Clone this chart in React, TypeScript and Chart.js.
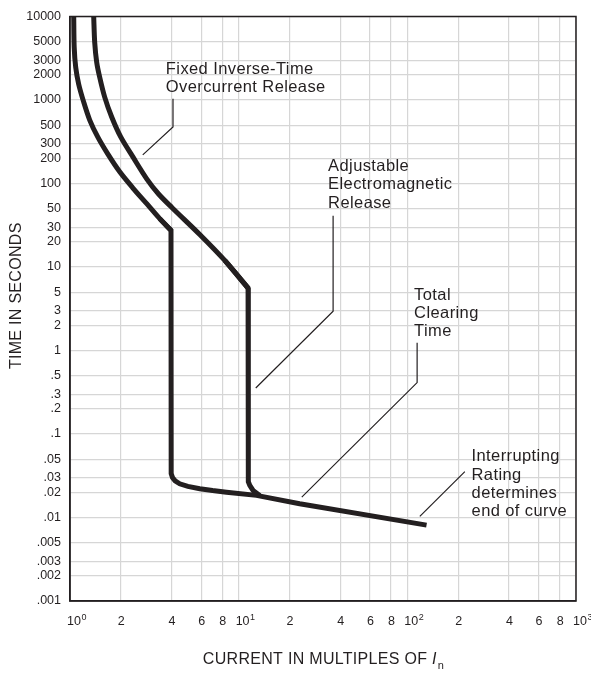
import React, { useEffect, useRef } from "react";
import { Chart, registerables } from "chart.js";

Chart.register(...registerables);

// ---------- data ----------
const X_TICKS = [1, 2, 4, 6, 8, 10, 20, 40, 60, 80, 100, 200, 400, 600, 800, 1000];
const X_TICK_LABELS = ["10^0", "2", "4", "6", "8", "10^1", "2", "4", "6", "8", "10^2", "2", "4", "6", "8", "10^3"];

const Y_TICKS = [0.001, 0.002, 0.003, 0.005, 0.01, 0.02, 0.03, 0.05, 0.1, 0.2, 0.3, 0.5, 1, 2, 3, 5, 10, 20, 30, 50, 100, 200, 300, 500, 1000, 2000, 3000, 5000, 10000];
const Y_TICK_LABELS = [".001", ".002", ".003", ".005", ".01", ".02", ".03", ".05", ".1", ".2", ".3", ".5", "1", "2", "3", "5", "10", "20", "30", "50", "100", "200", "300", "500", "1000", "2000", "3000", "5000", "10000"];

// Inner curve: smooth inverse-time part (top -> corner)
const CURVE1_UPPER_X = [1.052, 1.059, 1.081, 1.126, 1.206, 1.309, 1.46, 1.674, 1.971, 2.354, 2.85, 3.404, 3.97];
const CURVE1_UPPER_Y = [10000, 4270, 2465, 1545, 943, 575, 361, 226, 138, 88.9, 57.3, 37.96, 27.5];
// Inner curve: corner -> vertical drop -> total clearing tail
const CURVE1_LOWER_X = [3.404, 3.97, 3.98, 4.05, 4.2, 4.47, 5.0, 5.88, 7.0, 8.47, 12.75, 23.0, 130];
const CURVE1_LOWER_Y = [37.96, 27.5, 0.0335, 0.0302, 0.0275, 0.0253, 0.0236, 0.0221, 0.021, 0.0201, 0.0184, 0.0146, 0.0081];

// Outer curve: smooth part (top -> corner)
const CURVE2_UPPER_X = [1.382, 1.401, 1.44, 1.5, 1.606, 1.767, 1.998, 2.36, 2.85, 3.34, 4.03, 5.878, 8.271, 11.37];
const CURVE2_UPPER_Y = [10000, 4898, 2828, 1873, 1082, 625, 361, 208, 113.8, 75.4, 51.3, 24.5, 11.98, 5.6];
// Outer curve: corner -> vertical drop -> joins tail
const CURVE2_LOWER_X = [8.271, 11.37, 11.37, 11.45, 11.64, 12.17, 13.34];
const CURVE2_LOWER_Y = [11.98, 5.6, 0.0304, 0.0268, 0.0242, 0.0211, 0.0184];

// Annotation texts, anchored in data space (first-line baseline, left edge)
const ANNOTATION_TEXTS = [
  ["Fixed Inverse-Time", "Overcurrent Release"],
  ["Adjustable", "Electromagnetic", "Release"],
  ["Total", "Clearing", "Time"],
  ["Interrupting", "Rating", "determines", "end of curve"],
];
const ANNOTATION_ANCHORS_X = [3.70, 33.9, 109.7, 240.3];
const ANNOTATION_ANCHORS_Y = [2051, 140.6, 4.07, 0.0471];
const LEADER_X = [
  [4.08, 4.08, 2.70],
  [36.3, 36.3, 12.63],
  [114.3, 114.3, 23.67],
  [219.3, 118.6],
];
const LEADER_Y = [
  [1032, 475, 220],
  [41.2, 2.95, 0.356],
  [1.237, 0.4124, 0.01754],
  [0.0355, 0.01033],
];

const X_TITLE = "CURRENT IN MULTIPLES OF ";
const X_TITLE_SYMBOL = "I";
const X_TITLE_SUB = "n";
const Y_TITLE = "TIME IN SECONDS";

// ---------- styling ----------
const INK = "#231f20";
const GRID = "#d6d6d6";
const FONT = '"Liberation Sans", Arial, Helvetica, sans-serif';

const toPoints = (xs: number[], ys: number[]) => xs.map((x, i) => ({ x, y: ys[i] }));

const overlayPlugin = {
  id: "overlay",
  afterDatasetsDraw(chart: any) {
    const { ctx, chartArea } = chart;
    const xs = chart.scales.x;
    const ys = chart.scales.y;
    ctx.save();

    // frame
    ctx.strokeStyle = INK;
    ctx.lineWidth = 1.5;
    ctx.strokeRect(chartArea.left, chartArea.top, chartArea.right - chartArea.left, chartArea.bottom - chartArea.top);

    // leaders
    ctx.lineWidth = 1.2;
    ctx.strokeStyle = INK;
    LEADER_X.forEach((lx, k) => {
      ctx.beginPath();
      lx.forEach((vx, i) => {
        const px = xs.getPixelForValue(vx);
        const py = ys.getPixelForValue(LEADER_Y[k][i]);
        if (i === 0) ctx.moveTo(px, py);
        else ctx.lineTo(px, py);
      });
      ctx.stroke();
    });

    // annotation text
    ctx.fillStyle = INK;
    ctx.font = `16.5px ${FONT}`;
    (ctx as any).letterSpacing = "0.4px";
    ctx.textAlign = "left";
    ctx.textBaseline = "alphabetic";
    ANNOTATION_TEXTS.forEach((lines, k) => {
      const tx = xs.getPixelForValue(ANNOTATION_ANCHORS_X[k]);
      const ty = ys.getPixelForValue(ANNOTATION_ANCHORS_Y[k]);
      lines.forEach((t, i) => ctx.fillText(t, tx, ty + i * 18.3));
    });

    // x tick labels with superscript exponents
    (ctx as any).letterSpacing = "0px";
    const baseY = chartArea.bottom + 23.5;
    X_TICKS.forEach((v, i) => {
      const px = xs.getPixelForValue(v);
      const [base, exp] = X_TICK_LABELS[i].split("^");
      ctx.font = `12.5px ${FONT}`;
      if (exp !== undefined) {
        ctx.textAlign = "left";
        const left = px - 3;
        ctx.fillText(base, left, baseY);
        const w = ctx.measureText(base).width;
        ctx.font = `9px ${FONT}`;
        ctx.fillText(exp, left + w + 0.5, baseY - 5);
      } else {
        ctx.textAlign = "center";
        ctx.fillText(base, px + 0.5, baseY);
      }
    });

    // x title
    (ctx as any).letterSpacing = "0.3px";
    ctx.font = `16px ${FONT}`;
    const w1 = ctx.measureText(X_TITLE).width;
    ctx.font = `italic 16px ${FONT}`;
    const w2 = ctx.measureText(X_TITLE_SYMBOL).width;
    ctx.font = `11px ${FONT}`;
    const w3 = ctx.measureText(X_TITLE_SUB).width;
    const total = w1 + w2 + w3;
    const cx = (chartArea.left + chartArea.right) / 2;
    let sx = cx - total / 2;
    const ty = chartArea.bottom + 62.5;
    ctx.textAlign = "left";
    ctx.font = `16px ${FONT}`;
    ctx.fillText(X_TITLE, sx, ty);
    sx += w1;
    ctx.font = `italic 16px ${FONT}`;
    ctx.fillText(X_TITLE_SYMBOL, sx, ty);
    sx += w2;
    ctx.font = `11px ${FONT}`;
    ctx.fillText(X_TITLE_SUB, sx + 1, ty + 5);

    // y title
    ctx.font = `16px ${FONT}`;
    ctx.translate(16.7, (chartArea.top + chartArea.bottom) / 2 - 13);
    ctx.rotate(-Math.PI / 2);
    ctx.textAlign = "center";
    ctx.textBaseline = "middle";
    ctx.fillText(Y_TITLE, 0, 0);

    ctx.restore();
  },
};

export default function App() {
  const canvasRef = useRef<HTMLCanvasElement | null>(null);

  useEffect(() => {
    if (!canvasRef.current) return;
    const lineStyle = {
      borderColor: INK,
      borderWidth: 5,
      pointRadius: 0,
      fill: false,
      borderJoinStyle: "miter" as const,
      borderCapStyle: "butt" as const,
    };
    const chart = new Chart(canvasRef.current, {
      type: "line",
      data: {
        datasets: [
          { label: "Fixed inverse-time (upper)", data: toPoints(CURVE1_UPPER_X, CURVE1_UPPER_Y), tension: 0.3, ...lineStyle },
          { label: "Fixed inverse-time (lower)", data: toPoints(CURVE1_LOWER_X, CURVE1_LOWER_Y), tension: 0, ...lineStyle },
          { label: "Adjustable (upper)", data: toPoints(CURVE2_UPPER_X, CURVE2_UPPER_Y), tension: 0.3, ...lineStyle },
          { label: "Adjustable (lower)", data: toPoints(CURVE2_LOWER_X, CURVE2_LOWER_Y), tension: 0, ...lineStyle },
        ],
      },
      options: {
        animation: false,
        responsive: false,
        devicePixelRatio: 1,
        layout: { padding: { top: 14, right: 15, left: 0, bottom: 0 } },
        plugins: { legend: { display: false }, tooltip: { enabled: false } },
        scales: {
          x: {
            type: "logarithmic",
            min: 1,
            max: 1000,
            afterBuildTicks: (scale: any) => {
              scale.ticks = X_TICKS.map((v) => ({ value: v }));
            },
            afterFit: (scale: any) => {
              scale.height = 72;
            },
            ticks: { display: false, autoSkip: false },
            grid: { color: GRID, lineWidth: 1.2, drawTicks: false },
            border: { display: true, color: INK, width: 1.5 },
          },
          y: {
            type: "logarithmic",
            min: 0.001,
            max: 10000,
            afterBuildTicks: (scale: any) => {
              scale.ticks = Y_TICKS.map((v) => ({ value: v }));
            },
            afterFit: (scale: any) => {
              scale.width = 70;
            },
            ticks: {
              autoSkip: false,
              padding: 9,
              color: INK,
              font: { family: FONT, size: 12.5 },
              callback: (_v: any, i: number) => Y_TICK_LABELS[i],
            },
            grid: { color: GRID, lineWidth: 1.2, drawTicks: false },
            border: { display: true, color: INK, width: 1.5 },
          },
        },
      },
      plugins: [overlayPlugin],
    });
    return () => chart.destroy();
  }, []);

  return (
    <div style={{ position: "absolute", left: 0, top: 0, width: 591, height: 673, background: "#fff" }}>
      <canvas ref={canvasRef} width={591} height={673} style={{ display: "block" }} />
    </div>
  );
}
